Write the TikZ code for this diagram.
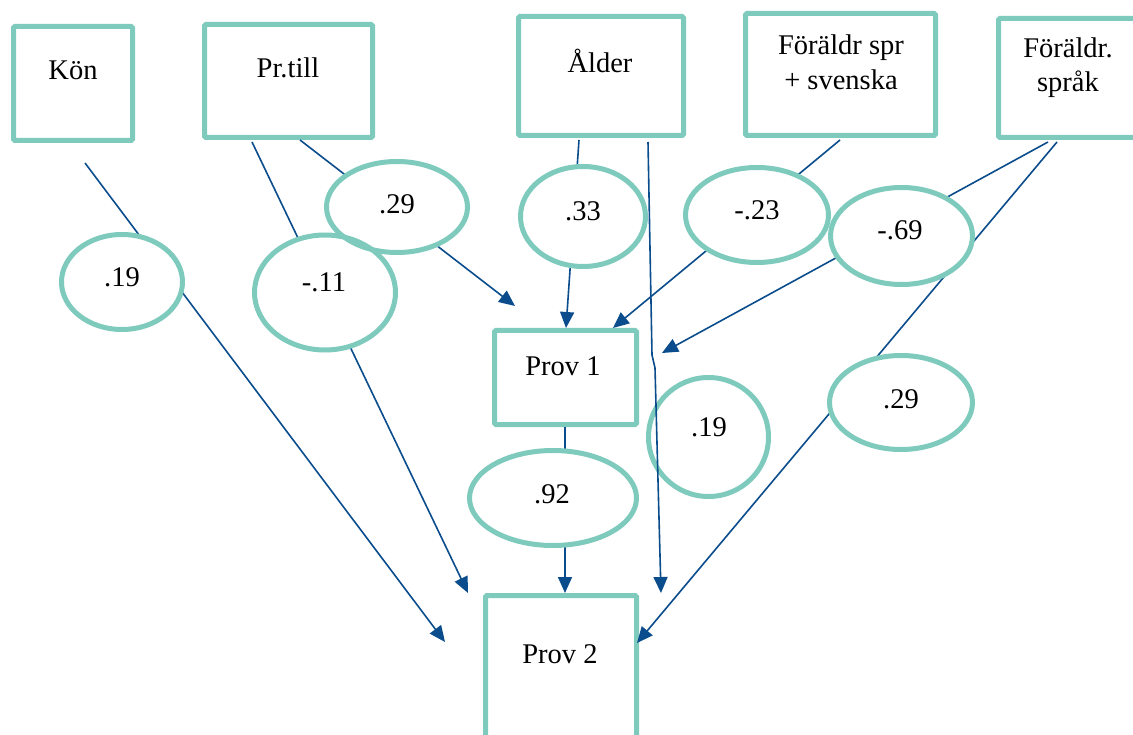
\documentclass[tikz,border=0pt]{standalone}
\usepackage{fontspec}
\setmainfont{Liberation Serif}
\usetikzlibrary{arrows.meta,calc,shapes.geometric}
\definecolor{boxc}{HTML}{7ECBBD}
\definecolor{linec}{HTML}{0B4D8C}
\begin{document}
\begin{tikzpicture}[x=1pt,y=-1pt,
  box/.style={draw=boxc,line width=5pt,inner sep=0pt,outer sep=0pt,rounded corners=1.5pt},
  ell/.style={ellipse,fill=white,inner sep=0pt,outer sep=0pt},
  ellline/.style={draw=boxc,line width=5pt},
  txt/.style={anchor=base,inner sep=0pt,font=\fontsize{28.5}{34}\selectfont},
  conn/.style={draw=linec,line width=1.6pt},
  arr/.style={conn,-{Triangle[length=16pt,width=14pt]}}]
\useasboundingbox (0,0) rectangle (1133,735);
\clip (0,0) rectangle (1133,735);
\fill[white] (0,0) rectangle (1133,735);
% boxes
\node[box,minimum width=119pt,minimum height=114pt] (kon) at (73,83.5) {};
\node[box,minimum width=168pt,minimum height=113pt] (prtill) at (288.5,81) {};
\node[box,minimum width=165pt,minimum height=119pt] (alder) at (601,76) {};
\node[box,minimum width=190pt,minimum height=122pt] (fsv) at (840.5,74.5) {};
\node[box,minimum width=144pt,minimum height=119pt] (fspr) at (1070.5,78) {};
\node[box,minimum width=142pt,minimum height=94pt] (prov1) at (565.5,377.5) {};
\node[box,minimum width=151pt,minimum height=165pt] (prov2) at (561,678) {};
% connector end points
\coordinate (k0) at (85,163);     \coordinate (k1) at (445,642);
\coordinate (pa0) at (252,142);   \coordinate (pa1) at (468,593);
\coordinate (pb0) at (300,140);   \coordinate (pb1) at (515,306);
\coordinate (aa0) at (579,140);   \coordinate (aa1) at (566,328);
\coordinate (ab0) at (648,142);   \coordinate (abk1) at (652,355);
\coordinate (abk2) at (655,368);  \coordinate (ab1) at (661,593);
\coordinate (fs0) at (840,140);   \coordinate (fs1) at (613,328);
\coordinate (fa0) at (1048,142);  \coordinate (fa1) at (662,353);
\coordinate (fb0) at (1057,142);  \coordinate (fb1) at (637,643);
\coordinate (p12) at (565,427);   \coordinate (p12t) at (565,593);
% connectors
\draw[arr] (k0) -- (k1);
\draw[arr] (pa0) -- (pa1);
\draw[arr] (pb0) -- (pb1);
\draw[arr] (aa0) -- (aa1);
\draw[arr] (fs0) -- (fs1);
\draw[arr] (fa0) -- (fa1);
\draw[arr] (fb0) -- (fb1);
\draw[arr] (p12) -- (p12t);
% ellipses
\node[ell,minimum width=121pt,minimum height=95pt] (e1) at (122,282) {};
\node[ell,minimum width=141pt,minimum height=115pt] (e2) at (325,292.5) {};
\node[ell,minimum width=141pt,minimum height=91pt] (e3) at (397,207) {};
\node[ell,minimum width=125pt,minimum height=100pt] (e4) at (583,216.5) {};
\node[ell,minimum width=143pt,minimum height=95pt] (e5) at (757,215) {};
\node[ell,minimum width=142pt,minimum height=97pt] (e6) at (901.5,236) {};
\node[ell,minimum width=143pt,minimum height=94pt] (e7) at (901,402.5) {};
\node[ell,minimum width=120pt,minimum height=119pt] (e8) at (708.5,437) {};
\node[ell,minimum width=167pt,minimum height=95pt] (e9) at (553,498) {};
\foreach \el in {e1,e2,e3,e4,e5,e6,e7,e8,e9}{
  \draw[ellline] let \p1=($(\el.east)-(\el.center)$), \p2=($(\el.north)-(\el.center)$) in
    (\el.center) ellipse [x radius=\x1, y radius=\y2];
}
% the line that runs over its ellipse
\draw[arr] (ab0) -- (abk1) -- (abk2) -- (ab1);
% texts
\node[txt] (tkon) at (73,80) {Kön};
\node[txt] (tpr) at (288,78) {Pr.till};
\node[txt] (tal) at (600,73) {Ålder};
\node[txt] (tfs1) at (841,55) {Föräldr spr};
\node[txt] (tfs2) at (841,90) {+ svenska};
\node[txt] (tfp1) at (1068,58) {Föräldr.};
\node[txt] (tfp2) at (1068,92) {språk};
\node[txt] (tp1) at (563,375) {Prov 1};
\node[txt] (tp2) at (560,663) {Prov 2};
\node[txt] (l1) at (122,287) {.19};
\node[txt] (l2) at (324,292) {-.11};
\node[txt] (l3) at (397,214) {.29};
\node[txt] (l4) at (583,221) {.33};
\node[txt] (l5) at (757,220) {-.23};
\node[txt] (l6) at (900,240) {-.69};
\node[txt] (l7) at (901,408) {.29};
\node[txt] (l8) at (709,436) {.19};
\node[txt] (l9) at (552,503) {.92};
\end{tikzpicture}
\end{document}
